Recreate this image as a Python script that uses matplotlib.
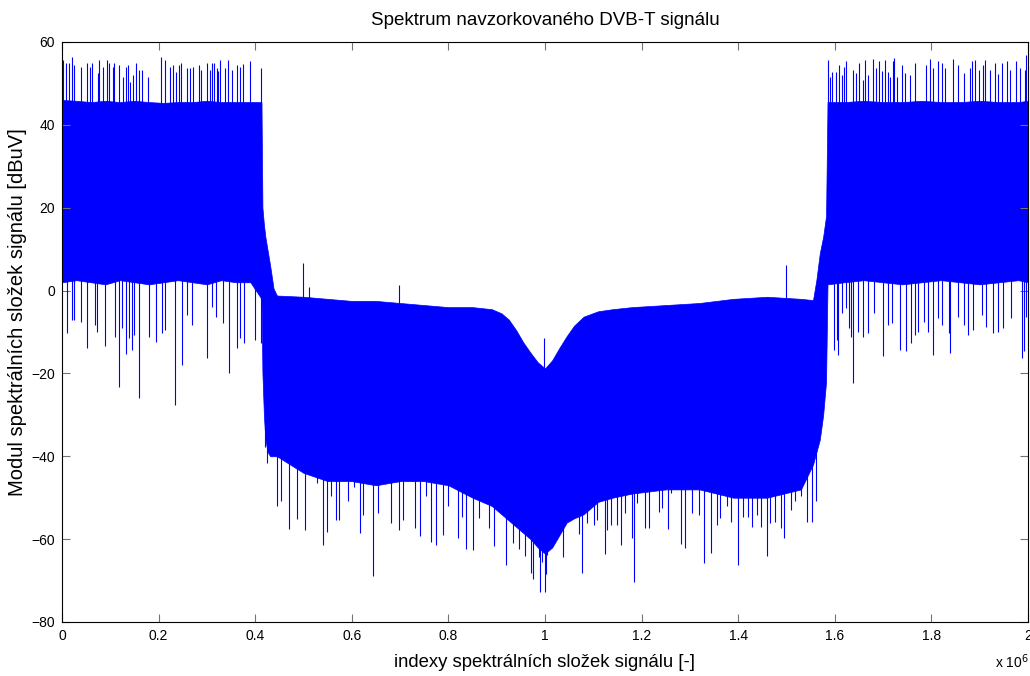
import numpy as np
import matplotlib
matplotlib.use("Agg")
import matplotlib.pyplot as plt

# ── Data (x in units of 1e6, y in dBuV) ─────────────────────
# dense body of the spectrum: upper / lower edge
body_x = [0.000, 0.030, 0.060, 0.090, 0.120, 0.150, 0.180, 0.210, 0.240, 0.270,
          0.300, 0.330, 0.360, 0.390, 0.413, 0.415, 0.418, 0.421, 0.426, 0.431,
          0.438, 0.445, 0.500, 0.550, 0.600, 0.650, 0.700, 0.750, 0.800, 0.850,
          0.890, 0.910, 0.925, 0.940, 0.955, 0.970, 0.985, 1.000, 1.015, 1.030,
          1.045, 1.060, 1.080, 1.110, 1.140, 1.180, 1.250, 1.320, 1.390, 1.460,
          1.530, 1.555, 1.562, 1.569, 1.576, 1.582, 1.585, 1.620, 1.660, 1.700,
          1.740, 1.780, 1.820, 1.860, 1.900, 1.940, 1.980, 2.000]
body_top = [46.0, 45.8, 45.5, 45.8, 45.5, 45.8, 45.5, 45.3, 45.5, 45.5,
            45.8, 45.5, 45.5, 45.5, 45.5, 20.0, 16.0, 13.0, 9.5, 6.0,
            0.5, -1.2, -1.5, -2.0, -2.5, -2.5, -3.0, -3.5, -4.0, -4.0,
            -4.5, -5.5, -7.0, -9.5, -12.5, -15.0, -17.3, -18.8, -16.8, -13.8,
            -11.0, -8.5, -6.3, -5.0, -4.5, -4.0, -3.5, -3.0, -2.0, -1.5,
            -2.0, -2.3, 2.6, 9.0, 13.0, 18.0, 45.5, 45.5, 45.8, 45.5,
            45.5, 45.8, 45.5, 45.5, 45.8, 45.5, 45.5, 45.8]
body_bot = [2.0, 2.5, 2.0, 1.5, 2.5, 2.0, 1.5, 2.0, 2.5, 2.0,
            1.5, 2.5, 2.0, 2.0, -2.0, -20.0, -30.0, -36.0, -39.0, -40.0,
            -40.0, -40.0, -44.0, -46.0, -46.0, -47.0, -46.0, -46.0, -47.0, -50.0,
            -52.0, -54.0, -55.5, -57.0, -58.5, -60.0, -62.0, -63.5, -62.0, -59.0,
            -56.0, -55.0, -54.0, -51.0, -50.0, -49.0, -48.0, -48.0, -50.0, -50.0,
            -48.0, -42.0, -39.0, -36.0, -30.0, -22.0, 1.5, 2.0, 2.5, 2.0,
            1.5, 2.0, 2.5, 2.0, 1.5, 2.0, 2.5, 2.0]

# spikes above the body
up_x = [0.003, 0.008, 0.0145, 0.021, 0.0255, 0.039, 0.051, 0.057, 0.062, 0.074,
        0.076, 0.084, 0.0925, 0.0966, 0.105, 0.108, 0.117, 0.126, 0.132, 0.137,
        0.141, 0.146, 0.153, 0.159, 0.166, 0.179, 0.204, 0.213, 0.224, 0.229,
        0.237, 0.242, 0.247, 0.259, 0.265, 0.272, 0.283, 0.287, 0.300, 0.306,
        0.311, 0.315, 0.320, 0.324, 0.327, 0.338, 0.343, 0.353, 0.362, 0.369,
        0.374, 0.389, 0.413,
        0.498, 0.511, 0.698, 0.998, 1.499,
        1.5852, 1.5893, 1.5948, 1.6025, 1.6080, 1.6142, 1.6184, 1.6239, 1.6377, 1.6432,
        1.6494, 1.6591, 1.6618, 1.6694, 1.6798, 1.6860, 1.6915, 1.6970, 1.7032, 1.7094,
        1.7150, 1.7198, 1.7232, 1.7288, 1.7384, 1.7453, 1.7550, 1.7653, 1.7888, 1.7978,
        1.8033, 1.8144, 1.8219, 1.8282, 1.8454, 1.8544, 1.8682, 1.8793, 1.8848, 1.8903,
        1.8986, 1.9075, 1.9110, 1.9206, 1.9317, 1.9386, 1.9462, 1.9565, 1.9627, 1.9744,
        1.9834, 1.9938, 1.9965]
up_y = [55.7, 55.0, 55.0, 56.4, 54.5, 54.0, 55.0, 54.0, 55.0, 52.6,
        55.7, 54.0, 55.7, 55.0, 54.0, 55.0, 54.5, 51.6, 54.0, 54.5,
        50.4, 52.0, 55.0, 53.2, 53.2, 51.6, 56.4, 55.7, 54.0, 54.5,
        52.8, 54.5, 55.0, 53.7, 53.7, 54.0, 54.5, 53.2, 55.0, 53.2,
        55.0, 55.0, 53.7, 53.0, 55.7, 53.7, 55.7, 53.2, 54.5, 54.0,
        54.8, 55.3, 53.7,
        6.6, 0.8, 1.3, -11.5, 6.2,
        55.7, 51.6, 52.8, 52.8, 54.5, 52.0, 54.0, 55.3, 53.2, 52.4,
        54.9, 50.8, 55.7, 52.0, 55.8, 53.7, 55.3, 53.1, 55.7, 52.8,
        51.6, 55.3, 56.1, 51.5, 54.5, 52.6, 52.0, 55.0, 54.5, 55.8,
        53.7, 55.3, 54.9, 53.7, 55.8, 54.5, 52.4, 53.7, 55.3, 55.7,
        53.2, 54.5, 55.7, 53.2, 54.9, 52.3, 54.9, 55.3, 53.2, 55.3,
        53.7, 53.2, 56.9]

# spikes below the body
down_x = [0.011, 0.020, 0.024, 0.039, 0.0524, 0.068, 0.073, 0.090, 0.110, 0.117,
          0.124, 0.1325, 0.139, 0.145, 0.149, 0.159, 0.180, 0.195, 0.207, 0.213,
          0.234, 0.248, 0.2595, 0.270, 0.2995, 0.310, 0.319, 0.333, 0.346, 0.363,
          0.369, 0.376, 0.3995, 0.413,
          0.4196, 0.4251, 0.4458, 0.4527, 0.4707, 0.4859, 0.5031, 0.5273, 0.5411, 0.5480,
          0.5576, 0.5673, 0.5728, 0.5921, 0.6052, 0.6170, 0.6232, 0.6432, 0.6542, 0.6818,
          0.6984, 0.7053, 0.7315, 0.7419, 0.7529, 0.7633, 0.7750, 0.7881, 0.7999, 0.8199,
          0.8275, 0.8364, 0.8503, 0.8627, 0.8834, 0.8944, 0.9199, 0.9330, 0.9462, 0.9586,
          0.9703, 0.9745, 0.9883, 0.9900, 0.9948, 1.0000, 1.0017, 1.0049, 1.0083, 1.0179,
          1.0383, 1.0521, 1.0704, 1.0773, 1.0870, 1.1014, 1.1083, 1.1246, 1.1289, 1.1372,
          1.1497, 1.1580, 1.1664, 1.1808, 1.1843, 1.1905, 1.2064, 1.2153, 1.2354, 1.2430,
          1.2547, 1.2616, 1.2823, 1.2906, 1.3044, 1.3182, 1.3286, 1.3444, 1.3555, 1.3617,
          1.3776, 1.3859, 1.3997, 1.4100, 1.4203, 1.4279, 1.4390, 1.4479, 1.4590, 1.4652,
          1.4755, 1.4893, 1.4948, 1.5100, 1.5169, 1.5307, 1.5431, 1.5528, 1.5604,
          1.5991, 1.6039, 1.6073, 1.6156, 1.6225, 1.6294, 1.6335, 1.6377, 1.6487, 1.6591,
          1.6694, 1.6819, 1.7005, 1.7109, 1.7191, 1.7357, 1.7481, 1.7578, 1.7661, 1.7716,
          1.7847, 1.7937, 1.8040, 1.8144, 1.8227, 1.8365, 1.8379, 1.8558, 1.8682, 1.8765,
          1.8869, 1.9041, 1.9138, 1.9282, 1.9372, 1.9490, 1.9648, 1.9869, 1.9910, 1.9965]
down_y = [-10.3, -7.1, -7.1, -7.5, -13.9, -8.3, -9.9, -13.5, -11.1, -23.2,
          -9.1, -15.4, -11.5, -14.3, -10.7, -26.0, -11.1, -12.5, -10.3, -9.5,
          -27.6, -18.0, -5.9, -8.3, -16.3, -3.9, -6.3, -7.9, -20.0, -13.8,
          -11.5, -12.7, -11.9, -12.7,
          -37.7, -41.7, -52.1, -50.9, -57.6, -55.2, -57.8, -46.5, -61.4, -58.2,
          -49.7, -55.4, -55.5, -50.9, -47.3, -58.4, -54.2, -69.0, -53.8, -56.0,
          -57.8, -55.4, -57.4, -59.2, -49.7, -60.6, -61.4, -59.0, -52.1, -59.8,
          -54.6, -62.4, -62.6, -55.0, -57.4, -61.6, -66.2, -61.0, -62.4, -64.1,
          -68.2, -69.7, -64.2, -72.7, -65.4, -72.7, -68.4, -63.8, -62.2, -61.0,
          -64.2, -53.8, -58.7, -68.1, -56.2, -56.6, -55.4, -63.6, -57.8, -56.6,
          -56.6, -61.4, -53.8, -59.8, -70.3, -51.3, -57.4, -57.4, -53.4, -52.5,
          -57.6, -48.9, -61.2, -62.2, -53.8, -54.2, -65.8, -63.4, -56.6, -55.0,
          -52.1, -55.8, -66.2, -54.6, -54.6, -57.0, -54.2, -57.0, -64.1, -56.2,
          -55.8, -57.4, -59.8, -53.0, -50.9, -49.7, -55.8, -55.8, -50.9,
          -14.3, -11.9, -15.5, -5.5, -4.3, -9.1, -11.1, -22.4, -9.9, -11.1,
          -10.3, -5.5, -15.9, -8.3, -7.9, -14.3, -14.7, -12.7, -10.7, -9.9,
          -7.5, -9.9, -15.5, -6.7, -8.3, -10.3, -15.1, -6.3, -8.3, -10.7,
          -9.5, -5.9, -8.7, -10.3, -9.9, -9.1, -6.7, -16.3, -14.7, -6.3]

BLUE = '#0000ff'

# ── Figure ───────────────────────────────────────────────────
plt.rcParams['font.family'] = ['Liberation Sans', 'DejaVu Sans']
fig = plt.figure(figsize=(10.3, 6.76), dpi=100)
ax = fig.add_axes([0.0602, 0.0799, 0.9378, 0.858])

ax.fill_between(body_x, body_bot, body_top, color=BLUE, linewidth=0.5)

# spikes start inside the body so they join it without a gap
up_base = np.interp(up_x, body_x, body_top) - 2
down_base = np.interp(down_x, body_x, body_bot) + 2
ax.vlines(up_x, up_base, up_y, color=BLUE, linewidth=0.8)
ax.vlines(down_x, down_y, down_base, color=BLUE, linewidth=0.8)

ax.set_xlim(0, 2)
ax.set_ylim(-80, 60)
ax.set_xticks(np.arange(0, 2.01, 0.2))
ax.set_xticklabels(['0', '0.2', '0.4', '0.6', '0.8', '1', '1.2', '1.4', '1.6', '1.8', '2'])
ax.set_yticks(np.arange(-80, 61, 20))
ax.tick_params(direction='in', top=True, right=True, length=6, width=0.8,
               color='0.45', labelsize=10, pad=5)
for s in ax.spines.values():
    s.set_linewidth(0.8)

ax.set_title('Spektrum navzorkovaného DVB-T signálu', fontsize=13.5, pad=12)
ax.set_xlabel('indexy spektrálních složek signálu [-]', fontsize=13.3, labelpad=8)
ax.set_ylabel('Modul spektrálních složek signálu [dBuV]', fontsize=14.5, labelpad=2)
ax.yaxis.set_label_coords(-0.036, 0.534)
fig.text(0.999, 0.021, 'x 10$^{6}$', ha='right', va='center', fontsize=10)

plt.savefig('out.png', dpi=100)
